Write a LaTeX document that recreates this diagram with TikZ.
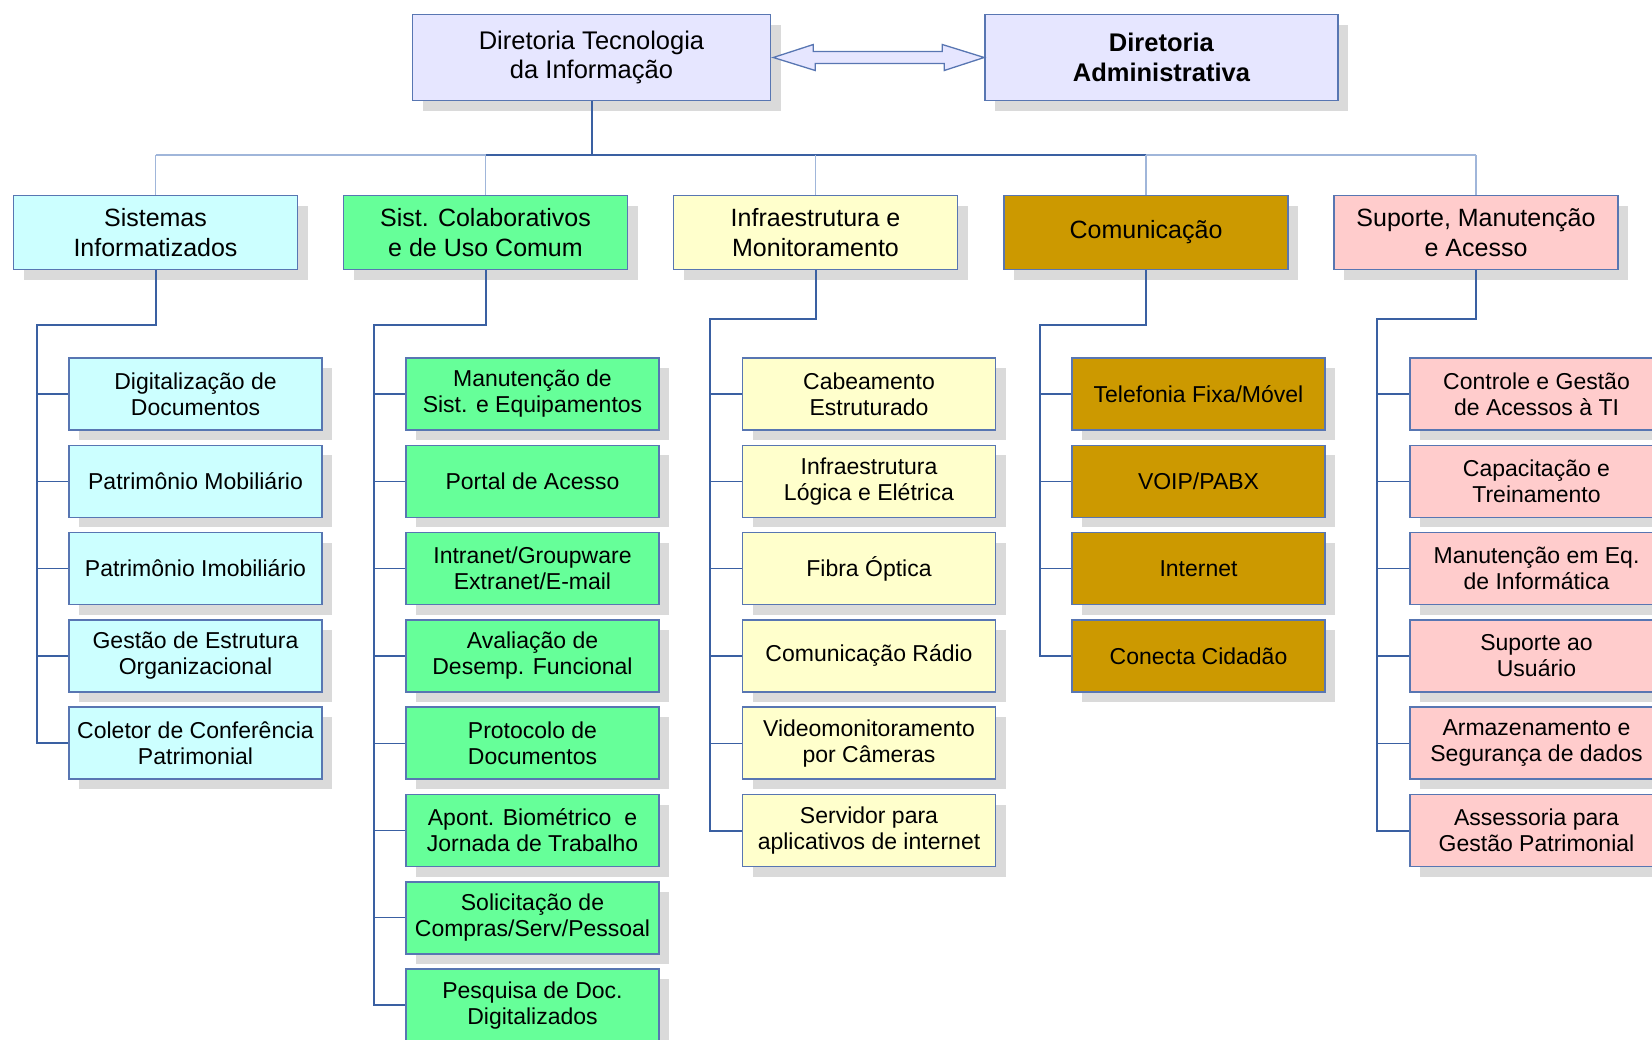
\documentclass[tikz,border=0pt]{standalone}
\usepackage{fontspec}
\setmainfont{Liberation Sans}
\usetikzlibrary{shadows}
\definecolor{lav}{RGB}{230,230,255}
\definecolor{cyanbox}{RGB}{204,255,255}
\definecolor{greenbox}{RGB}{102,255,153}
\definecolor{yellowbox}{RGB}{255,255,204}
\definecolor{goldbox}{RGB}{204,153,0}
\definecolor{pinkbox}{RGB}{255,204,204}
\definecolor{edge}{RGB}{88,118,178}
\definecolor{wirec}{RGB}{58,96,162}
\definecolor{wirelt}{RGB}{160,182,218}
\definecolor{shade}{RGB}{218,218,218}
\tikzset{box/.style={draw=edge, line width=1.6pt, align=center,
  drop shadow={shadow xshift=10pt, shadow yshift=-10pt, fill=shade, opacity=1}},
  head/.style={box, fill=lav, minimum width=358pt, minimum height=86pt,
  font=\fontsize{25.5}{29.5}\selectfont},
  area/.style={box, minimum width=284pt, minimum height=74pt,
  font=\fontsize{25}{29.5}\selectfont},
  item/.style={box, minimum width=253pt, minimum height=72pt,
  font=\fontsize{23}{26}\selectfont},
  wire/.style={draw=wirec, line width=2pt},
  drop/.style={draw=wirelt, line width=1.3pt},
  tick/.style={draw=wirec, line width=1.2pt}}

\begin{document}
\begin{tikzpicture}[x=1pt, y=-1pt]
  \path[use as bounding box] (0,0) rectangle (1652,1039);
  \clip (0,0) rectangle (1652,1039);
  % Directorates
  \node[head] (dti) at (591.5, 57.5) {Diretoria Tecnologia\\da Informação};
  \node[head, minimum width=353pt] (dadm) at (1161.5, 57.5)
    {\textbf{Diretoria}\\\textbf{Administrativa}};
  % Areas
  \node[area, fill=cyanbox]   (sis)   at (155.5, 232.5) {Sistemas\\Informatizados};
  \node[area, fill=greenbox]  (colab) at (485.5, 232.5) {Sist. Colaborativos\\e de Uso Comum};
  \node[area, fill=yellowbox] (infra) at (815.5, 232.5) {Infraestrutura e\\Monitoramento};
  \node[area, fill=goldbox]   (comm)  at (1146, 232.5)  {Comunicação};
  \node[area, fill=pinkbox]   (supp)  at (1476, 232.5)  {Suporte, Manutenção\\e Acesso};
  % Sistemas Informatizados
  \node[item, fill=cyanbox] (s1) at (195.5, 394)   {Digitalização de\\Documentos};
  \node[item, fill=cyanbox] (s2) at (195.5, 481.3) {Patrimônio Mobiliário};
  \node[item, fill=cyanbox] (s3) at (195.5, 568.6) {Patrimônio Imobiliário};
  \node[item, fill=cyanbox] (s4) at (195.5, 655.9) {Gestão de Estrutura\\Organizacional};
  \node[item, fill=cyanbox] (s5) at (195.5, 743.2) {Coletor de Conferência\\Patrimonial};
  % Sist. Colaborativos
  \node[item, fill=greenbox] (c1) at (532.5, 394)    {Manutenção de\\Sist. e Equipamentos};
  \node[item, fill=greenbox] (c2) at (532.5, 481.3)  {Portal de Acesso};
  \node[item, fill=greenbox] (c3) at (532.5, 568.6)  {Intranet/Groupware\\Extranet/E-mail};
  \node[item, fill=greenbox] (c4) at (532.5, 655.9)  {Avaliação de\\Desemp. Funcional};
  \node[item, fill=greenbox] (c5) at (532.5, 743.2)  {Protocolo de\\Documentos};
  \node[item, fill=greenbox] (c6) at (532.5, 830.5)  {Apont. Biométrico\ \ e\\Jornada de Trabalho};
  \node[item, fill=greenbox] (c7) at (532.5, 917.8)  {Solicitação de\\Compras/Serv/Pessoal};
  \node[item, fill=greenbox] (c8) at (532.5, 1005.1) {Pesquisa de Doc.\\Digitalizados};
  % Infraestrutura
  \node[item, fill=yellowbox] (i1) at (869, 394)   {Cabeamento\\Estruturado};
  \node[item, fill=yellowbox] (i2) at (869, 481.3) {Infraestrutura\\Lógica e Elétrica};
  \node[item, fill=yellowbox] (i3) at (869, 568.6) {Fibra Óptica};
  \node[item, fill=yellowbox] (i4) at (869, 655.9) {Comunicação Rádio};
  \node[item, fill=yellowbox] (i5) at (869, 743.2) {Videomonitoramento\\por Câmeras};
  \node[item, fill=yellowbox] (i6) at (869, 830.5) {Servidor para\\aplicativos de internet};
  % Comunicacao
  \node[item, fill=goldbox] (m1) at (1198.5, 394)   {Telefonia Fixa/Móvel};
  \node[item, fill=goldbox] (m2) at (1198.5, 481.3) {VOIP/PABX};
  \node[item, fill=goldbox] (m3) at (1198.5, 568.6) {Internet};
  \node[item, fill=goldbox] (m4) at (1198.5, 655.9) {Conecta Cidadão};
  % Suporte
  \node[item, fill=pinkbox] (p1) at (1536.5, 394)   {Controle e Gestão\\de Acessos à TI};
  \node[item, fill=pinkbox] (p2) at (1536.5, 481.3) {Capacitação e\\Treinamento};
  \node[item, fill=pinkbox] (p3) at (1536.5, 568.6) {Manutenção em Eq.\\de Informática};
  \node[item, fill=pinkbox] (p4) at (1536.5, 655.9) {Suporte ao\\Usuário};
  \node[item, fill=pinkbox] (p5) at (1536.5, 743.2) {Armazenamento e\\Segurança de dados};
  \node[item, fill=pinkbox] (p6) at (1536.5, 830.5) {Assessoria para\\Gestão Patrimonial};
  % Two-way link between directorates
  \draw[draw=edge, fill=lav, line width=1.3pt, line join=miter]
    (dti.east) ++(2,0) -- ++(40,-13) -- ++(0,7) -- ++(129,0) -- ++(0,-7)
    -- (dadm.west) -- ++(-40,13) -- ++(0,-7) -- ++(-129,0) -- ++(0,7) -- cycle;
  % Bus to the areas
  \coordinate (hub) at (591.5, 155);
  \draw[wire] (dti.south) -- (hub);
  \draw[wire] (colab.north |- hub) -- (comm.north |- hub);
  \draw[wire, draw=wirelt] (sis.north |- hub) -- (colab.north |- hub);
  \draw[wire, draw=wirelt] (comm.north |- hub) -- (supp.north |- hub);
  \draw[drop] (sis.north |- hub) -- (sis.north);
  \draw[drop] (colab.north |- hub) -- (colab.north);
  \draw[drop] (infra.north |- hub) -- (infra.north);
  \draw[drop] (comm.north |- hub) -- (comm.north);
  \draw[drop] (supp.north |- hub) -- (supp.north);
  % Spines
  \coordinate (sbar) at (37, 325);
  \coordinate (cbar) at (374, 325);
  \coordinate (ibar) at (710, 319);
  \coordinate (mbar) at (1040, 325);
  \coordinate (pbar) at (1377, 319);
  \draw[wire] (sis.south) |- (sbar) |- (s5.west);
  \draw[wire] (colab.south) |- (cbar) |- (c8.west);
  \draw[wire] (infra.south) |- (ibar) |- (i6.west);
  \draw[wire] (comm.south) |- (mbar) |- (m4.west);
  \draw[wire] (supp.south) |- (pbar) |- (p6.west);
  % Ticks
  \draw[tick] (sbar |- s1.west) -- (s1.west);
  \draw[tick] (sbar |- s2.west) -- (s2.west);
  \draw[tick] (sbar |- s3.west) -- (s3.west);
  \draw[tick] (sbar |- s4.west) -- (s4.west);
  \draw[tick] (cbar |- c1.west) -- (c1.west);
  \draw[tick] (cbar |- c2.west) -- (c2.west);
  \draw[tick] (cbar |- c3.west) -- (c3.west);
  \draw[tick] (cbar |- c4.west) -- (c4.west);
  \draw[tick] (cbar |- c5.west) -- (c5.west);
  \draw[tick] (cbar |- c6.west) -- (c6.west);
  \draw[tick] (cbar |- c7.west) -- (c7.west);
  \draw[tick] (ibar |- i1.west) -- (i1.west);
  \draw[tick] (ibar |- i2.west) -- (i2.west);
  \draw[tick] (ibar |- i3.west) -- (i3.west);
  \draw[tick] (ibar |- i4.west) -- (i4.west);
  \draw[tick] (ibar |- i5.west) -- (i5.west);
  \draw[tick] (mbar |- m1.west) -- (m1.west);
  \draw[tick] (mbar |- m2.west) -- (m2.west);
  \draw[tick] (mbar |- m3.west) -- (m3.west);
  \draw[tick] (pbar |- p1.west) -- (p1.west);
  \draw[tick] (pbar |- p2.west) -- (p2.west);
  \draw[tick] (pbar |- p3.west) -- (p3.west);
  \draw[tick] (pbar |- p4.west) -- (p4.west);
  \draw[tick] (pbar |- p5.west) -- (p5.west);
\end{tikzpicture}
\end{document}
